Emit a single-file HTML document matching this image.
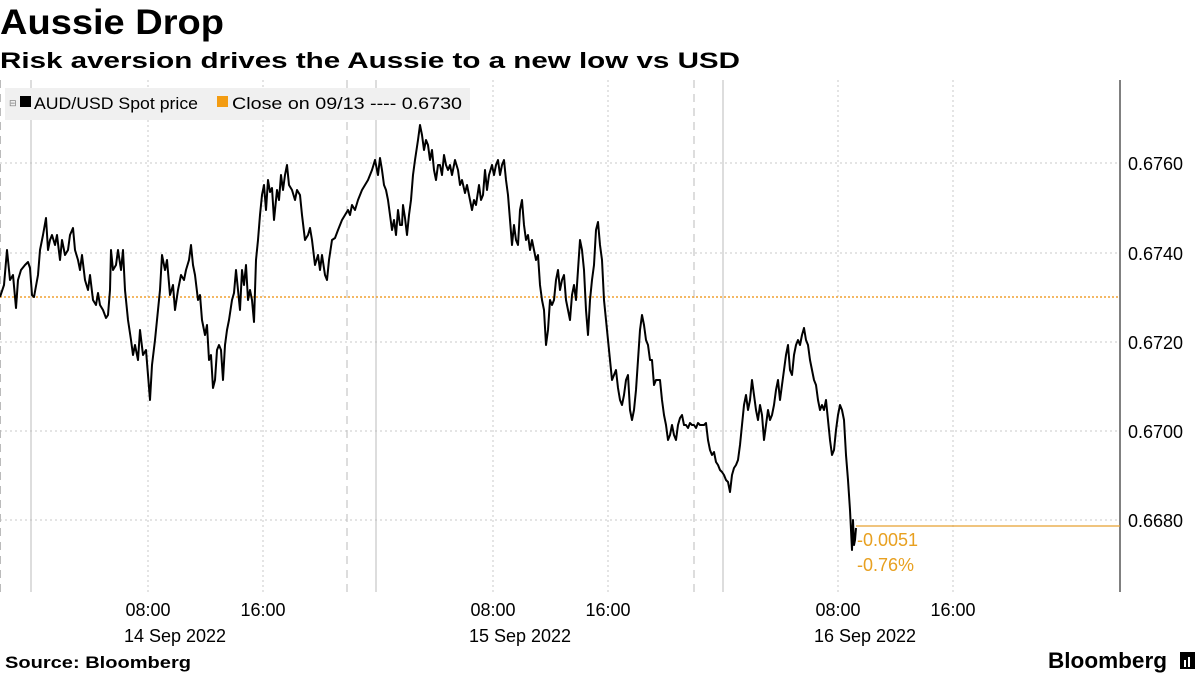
<!DOCTYPE html>
<html><head><meta charset="utf-8"><style>
body{margin:0;background:#fff;width:1200px;height:675px;overflow:hidden;font-family:"Liberation Sans",sans-serif;position:relative}
</style></head><body>
<svg width="1200" height="675" style="position:absolute;left:0;top:0">
<text x="0" y="34" font-size="35" font-weight="bold" textLength="224" lengthAdjust="spacingAndGlyphs">Aussie Drop</text>
<text x="0" y="68" font-size="22" font-weight="bold" textLength="740" lengthAdjust="spacingAndGlyphs">Risk aversion drives the Aussie to a new low vs USD</text>
<g stroke="#c8c8c8" stroke-width="1" stroke-dasharray="2,3">
<line x1="0" x2="1120" y1="163" y2="163"/><line x1="0" x2="1120" y1="253" y2="253"/><line x1="0" x2="1120" y1="342" y2="342"/><line x1="0" x2="1120" y1="431" y2="431"/><line x1="0" x2="1120" y1="520" y2="520"/>
<line x1="148" x2="148" y1="80" y2="592"/><line x1="263" x2="263" y1="80" y2="592"/><line x1="493" x2="493" y1="80" y2="592"/><line x1="608" x2="608" y1="80" y2="592"/><line x1="838" x2="838" y1="80" y2="592"/><line x1="953" x2="953" y1="80" y2="592"/>
</g>
<g stroke="#bbb" stroke-width="1" stroke-dasharray="8,6">
<line x1="0.5" x2="0.5" y1="80" y2="592"/><line x1="347" x2="347" y1="80" y2="592"/><line x1="694" x2="694" y1="80" y2="592"/>
</g>
<g stroke="#bbb" stroke-width="1">
<line x1="31" x2="31" y1="80" y2="592"/><line x1="376" x2="376" y1="80" y2="592"/><line x1="723" x2="723" y1="80" y2="592"/>
</g>
<line x1="1120" x2="1120" y1="80" y2="592" stroke="#000" stroke-width="1"/>
<line x1="0" x2="1120" y1="297" y2="297" stroke="#f0a030" stroke-width="1.5" stroke-dasharray="2,2"/>
<rect x="5" y="88" width="465" height="32" fill="#f0f0f0"/>
<rect x="20" y="96" width="11" height="11" fill="#000"/>
<rect x="217" y="96" width="11" height="11" fill="#f39c12"/>
<text x="9" y="106" font-size="9" fill="#777">⊟</text>
<text x="34" y="109" font-size="17" fill="#000" textLength="164" lengthAdjust="spacingAndGlyphs">AUD/USD Spot price</text>
<text x="232" y="109" font-size="17" fill="#000" textLength="230" lengthAdjust="spacingAndGlyphs">Close on 09/13 ---- 0.6730</text>
<line x1="856" x2="1120" y1="526" y2="526" stroke="#e8a030" stroke-width="1.2"/>
<polyline fill="none" stroke="#000" stroke-width="2" stroke-linejoin="round" points="0,297 4,285 7,250 10,280 13,275 16,308 18,280 21,270 25,265 28,262 30,268 32,295 34,297 38,275 40,250 43,235 46,218 48,250 50,240 52,235 55,245 57,235 60,260 62,240 65,255 68,250 70,235 73,228 75,250 78,260 80,270 82,255 85,280 88,290 90,275 93,300 96,305 98,293 100,305 103,310 106,318 108,315 110,290 111,250 113,270 116,265 118,250 121,270 123,250 125,290 128,320 131,340 133,355 135,345 138,360 140,330 143,355 146,350 148,375 150,400 152,365 155,340 158,310 160,290 162,255 165,270 167,260 170,295 173,285 175,310 178,290 181,275 184,280 186,270 189,260 191,245 193,265 195,275 198,300 200,295 202,320 205,335 207,325 209,360 211,355 213,388 215,380 217,350 219,345 221,350 223,380 225,345 227,330 229,320 232,300 234,293 236,270 238,290 240,310 242,270 244,285 246,265 248,300 250,290 252,300 254,322 256,260 258,240 260,215 262,195 264,185 266,210 268,180 270,192 272,188 274,220 277,190 279,200 281,175 283,190 285,175 287,165 289,185 292,190 295,200 297,190 300,195 302,215 305,240 308,235 310,228 312,240 315,265 318,255 320,270 322,255 325,275 327,280 329,260 332,240 335,238 338,230 342,220 345,215 348,210 350,215 352,205 355,210 358,200 362,190 365,185 368,180 372,170 375,160 378,175 380,158 382,170 384,185 386,190 388,200 390,215 392,230 394,220 396,235 398,210 400,225 402,225 403,205 405,218 407,235 409,215 411,200 413,175 415,160 418,140 420,125 422,135 424,150 426,140 428,145 430,160 432,150 434,170 436,180 438,165 440,165 442,175 444,155 446,165 448,170 450,165 452,175 455,160 458,170 460,185 462,180 465,193 467,185 470,200 472,210 474,200 476,205 479,185 481,200 483,195 485,170 487,190 489,175 492,165 494,175 496,165 498,160 500,175 502,165 504,160 506,180 508,195 510,220 512,245 514,225 516,240 518,245 520,210 522,200 524,225 526,240 528,235 530,250 532,240 534,250 536,260 538,255 540,285 542,300 544,310 546,345 548,330 550,300 552,305 554,300 556,280 558,270 560,290 562,280 564,275 566,300 568,310 570,320 572,295 574,285 576,300 578,270 580,240 582,250 584,270 586,310 588,335 590,300 592,280 594,265 596,230 598,222 600,245 602,260 604,300 606,320 608,340 610,360 612,380 614,375 616,370 618,388 620,400 622,405 624,395 626,380 628,375 630,410 632,420 634,410 636,390 638,360 640,330 642,315 644,325 646,340 648,345 650,360 652,360 654,385 656,380 658,380 660,380 662,400 664,415 666,425 668,440 670,435 672,425 674,435 676,440 678,425 680,418 682,415 684,425 686,425 688,428 690,423 692,425 694,425 696,428 698,423 700,425 702,425 704,425 706,423 708,440 710,450 712,455 714,452 716,462 718,465 720,470 722,472 724,475 726,480 728,482 730,492 732,475 734,468 736,465 738,460 740,445 742,425 744,405 746,395 748,410 750,400 752,380 754,395 756,410 758,420 760,405 762,415 764,440 766,425 768,410 770,420 772,415 774,405 776,390 778,380 780,400 782,385 784,370 786,355 788,345 790,370 792,375 794,355 796,345 798,340 800,345 802,335 804,328 806,340 808,345 810,360 812,370 814,380 816,385 818,400 820,410 822,405 824,410 826,400 828,420 830,440 832,455 834,450 836,430 838,415 840,405 842,410 844,420 846,455 848,480 850,510 852,550 853,520 854,545 855,540 856,528"/>
<g font-size="18" fill="#000">
<text x="1128" y="170">0.6760</text><text x="1128" y="260">0.6740</text><text x="1128" y="349">0.6720</text><text x="1128" y="438">0.6700</text><text x="1128" y="527">0.6680</text>
<text x="148" y="616" text-anchor="middle">08:00</text><text x="263" y="616" text-anchor="middle">16:00</text>
<text x="493" y="616" text-anchor="middle">08:00</text><text x="608" y="616" text-anchor="middle">16:00</text>
<text x="838" y="616" text-anchor="middle">08:00</text><text x="953" y="616" text-anchor="middle">16:00</text>
<text x="175" y="642" text-anchor="middle">14 Sep 2022</text><text x="520" y="642" text-anchor="middle">15 Sep 2022</text><text x="865" y="642" text-anchor="middle">16 Sep 2022</text>
</g>
<g font-size="18" fill="#e8a020">
<text x="857" y="546">-0.0051</text><text x="857" y="571">-0.76%</text>
</g>
<text x="5" y="668" font-size="17" font-weight="bold" textLength="186" lengthAdjust="spacingAndGlyphs">Source: Bloomberg</text>
<text x="1048" y="668" font-size="22" font-weight="bold" textLength="119" lengthAdjust="spacingAndGlyphs">Bloomberg</text>
<rect x="1180" y="652" width="15" height="17" fill="#000"/>
<rect x="1184" y="660" width="2" height="7" fill="#fff"/><rect x="1188" y="657" width="2" height="10" fill="#fff"/>
</svg>
</body></html>
